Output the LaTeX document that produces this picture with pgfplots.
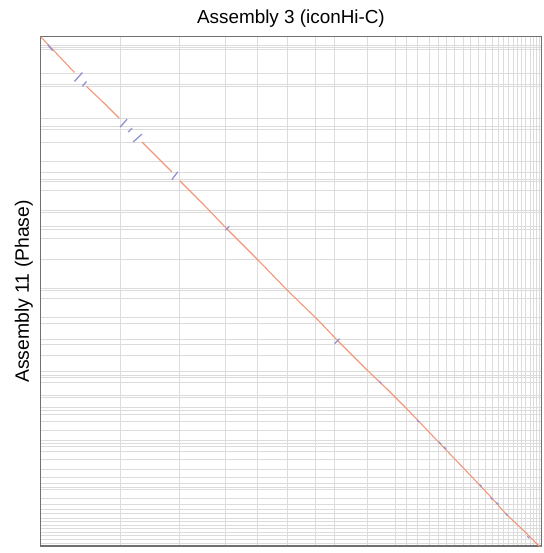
\documentclass[border=0pt]{standalone}
\usepackage{fontspec}
\setmainfont{Liberation Sans}
\usepackage{pgfplots}
\pgfplotsset{compat=1.18}

\definecolor{framegray}{RGB}{112,112,112}
\definecolor{gridgray}{RGB}{220,220,220}
\definecolor{griddark}{RGB}{176,176,176}
\definecolor{fwd}{RGB}{242,150,120}
\definecolor{rev}{RGB}{145,145,212}

\begin{document}
\begin{tikzpicture}
\begin{axis}[
  scale only axis,
  width=504pt, height=513pt,
  xmin=41, xmax=545, ymin=37, ymax=550,
  y dir=reverse,
  axis line style={draw=framegray, line width=1.4pt},
  % contig boundaries of the two assemblies
  xtick={121,181,227,259,289,318,337,370,398,409,420,432,441,450,458,467,474,482,489,496,502,507,512,517,521,525,529,534,537,540,543},
  ytick={46,48,50,74,85,87,127,130,143,163,174,181,183,192,212,214,228,231,240,261,290,292,300,320,326,342,347,358,378,380,385,398,400,410,413,417,424,433,443,446,450,455,463,473,487,491,493,502,508,513,517,522,525,529,532,536,539,543,547},
  extra y ticks={119,374,481},
  extra tick style={grid style={draw=griddark, line width=0.8pt}},
  xticklabels={}, yticklabels={},
  extra y tick labels={},
  major tick length=0pt,
  grid=major,
  major grid style={draw=gridgray, line width=0.8pt},
  unbounded coords=jump,
  clip=true,
]
% forward alignments
\addplot[fwd, line width=1.1pt] coordinates {
  (41,37) (58,55) (75,73) (nan,nan)
  (87,87) (104,103) (120,119) (nan,nan)
  (143,143) (158,158) (173,173) (nan,nan)
  (181,182) (205,206) (228,230) (260,262) (290,293) (320,322) (340,343)
  (370,373) (390,392) (410,412) (430,433) (452,456) (475,480)
  (493,499) (510,518) (527,534) (544,551)
};
% reverse alignments (inversions)
\addplot[rev, line width=1.3pt] coordinates {
  (48,45) (53,51) (nan,nan)
  (75,82) (83,73) (nan,nan)
  (83,87) (87,82) (nan,nan)
  (121,128) (128,120) (nan,nan)
  (129,133) (133,129) (nan,nan)
  (134,143) (143,135) (nan,nan)
  (173,181) (179,173) (nan,nan)
  (227,232) (231,228) (nan,nan)
  (337,346) (342,341) (nan,nan)
  (382,384) (384,386) (nan,nan)
  (420,423) (422,425) (nan,nan)
  (442,445) (444,447) (nan,nan)
  (447,450) (449,452) (nan,nan)
  (483,488) (485,490) (nan,nan)
  (494,501) (496,503) (nan,nan)
  (500,506) (502,508) (nan,nan)
  (509,517) (511,519) (nan,nan)
  (531,540) (533,542)
};
\end{axis}
\node[anchor=base, font=\fontsize{19}{22}\selectfont]
  at ([yshift=13pt]current axis.north) {Assembly 3 (iconHi-C)};
\node[anchor=base, rotate=90, font=\fontsize{19.5}{22}\selectfont]
  at ([xshift=-12pt]current axis.west) {Assembly 11 (Phase)};
\path ([shift={(-41pt,-3pt)}]current axis.south west)
      ([shift={(2pt,37pt)}]current axis.north east);
\end{tikzpicture}
\end{document}
